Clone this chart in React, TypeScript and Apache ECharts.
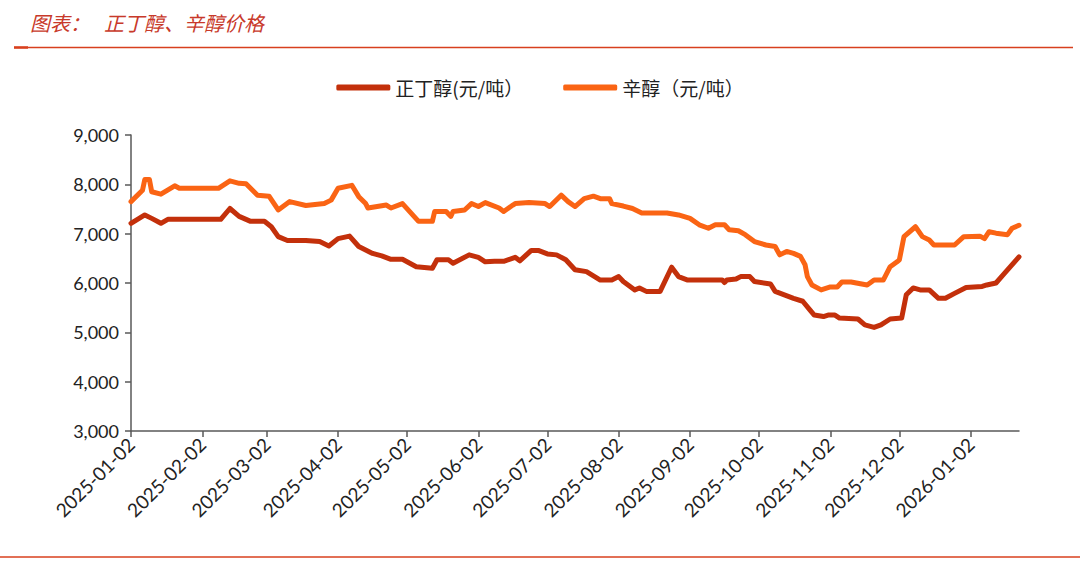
import React, { useEffect, useRef } from "react";
import * as echarts from "echarts";

const tickLabels = [
  "2025-01-02", "2025-02-02", "2025-03-02", "2025-04-02", "2025-05-02", "2025-06-02",
  "2025-07-02", "2025-08-02", "2025-09-02", "2025-10-02", "2025-11-02", "2025-12-02", "2026-01-02",
];

const seriesNames = ["正丁醇(元/吨）", "辛醇（元/吨）"];

const butanolDates = [
  "2025-01-02", "2025-01-08", "2025-01-11", "2025-01-15", "2025-01-18", "2025-02-10", "2025-02-14",
  "2025-02-18", "2025-02-23", "2025-03-01", "2025-03-04", "2025-03-07", "2025-03-11", "2025-03-19",
  "2025-03-25", "2025-03-29", "2025-04-02", "2025-04-07", "2025-04-11", "2025-04-17", "2025-04-21",
  "2025-04-25", "2025-04-30", "2025-05-06", "2025-05-13", "2025-05-15", "2025-05-20", "2025-05-22",
  "2025-05-29", "2025-06-02", "2025-06-05", "2025-06-09", "2025-06-13", "2025-06-18", "2025-06-20",
  "2025-06-25", "2025-06-28", "2025-07-02", "2025-07-06", "2025-07-10", "2025-07-14", "2025-07-19",
  "2025-07-25", "2025-07-30", "2025-08-02", "2025-08-04", "2025-08-09", "2025-08-11", "2025-08-14",
  "2025-08-20", "2025-08-25", "2025-08-28", "2025-09-01", "2025-09-16", "2025-09-17", "2025-09-18",
  "2025-09-22", "2025-09-24", "2025-09-28", "2025-09-30", "2025-10-07", "2025-10-09", "2025-10-13",
  "2025-10-17", "2025-10-21", "2025-10-24", "2025-10-26", "2025-10-30", "2025-11-01", "2025-11-04",
  "2025-11-06", "2025-11-14", "2025-11-17", "2025-11-21", "2025-11-24", "2025-11-28", "2025-12-03",
  "2025-12-05", "2025-12-08", "2025-12-11", "2025-12-15", "2025-12-19", "2025-12-22", "2025-12-26",
  "2025-12-31", "2026-01-07", "2026-01-09", "2026-01-13", "2026-01-16", "2026-01-23",
];
const butanolValues = [
  7210, 7380, 7310, 7210, 7290, 7290, 7510,
  7350, 7250, 7250, 7140, 6940, 6860, 6860,
  6840, 6750, 6900, 6950, 6740, 6600, 6550,
  6480, 6480, 6330, 6300, 6470, 6470, 6400,
  6570, 6520, 6430, 6440, 6440, 6520, 6450,
  6660, 6660, 6590, 6570, 6470, 6270, 6230,
  6060, 6060, 6130, 6030, 5860, 5900, 5830,
  5830, 6320, 6130, 6060, 6060, 6010, 6060,
  6080, 6130, 6130, 6030, 5980, 5830, 5760,
  5690, 5630, 5460, 5350, 5320, 5350, 5350,
  5290, 5270, 5150, 5100, 5150, 5270, 5290,
  5760, 5900, 5860, 5860, 5690, 5690, 5790,
  5910, 5930, 5960, 6000, 6160, 6530,
];

const octanolDates = [
  "2025-01-02", "2025-01-07", "2025-01-08", "2025-01-10", "2025-01-11", "2025-01-15", "2025-01-21",
  "2025-01-23", "2025-02-09", "2025-02-14", "2025-02-18", "2025-02-21", "2025-02-26", "2025-03-03",
  "2025-03-07", "2025-03-12", "2025-03-19", "2025-03-27", "2025-03-30", "2025-04-02", "2025-04-08",
  "2025-04-11", "2025-04-14", "2025-04-15", "2025-04-23", "2025-04-25", "2025-04-30", "2025-05-07",
  "2025-05-13", "2025-05-14", "2025-05-19", "2025-05-21", "2025-05-22", "2025-05-27", "2025-05-30",
  "2025-06-02", "2025-06-05", "2025-06-11", "2025-06-13", "2025-06-17", "2025-06-18", "2025-06-24",
  "2025-07-01", "2025-07-03", "2025-07-08", "2025-07-11", "2025-07-14", "2025-07-18", "2025-07-22",
  "2025-07-25", "2025-07-29", "2025-07-30", "2025-08-04", "2025-08-08", "2025-08-12", "2025-08-23",
  "2025-08-28", "2025-09-02", "2025-09-06", "2025-09-10", "2025-09-13", "2025-09-17", "2025-09-19",
  "2025-09-23", "2025-09-26", "2025-09-30", "2025-10-05", "2025-10-09", "2025-10-11", "2025-10-14",
  "2025-10-17", "2025-10-20", "2025-10-22", "2025-10-23", "2025-10-25", "2025-10-29", "2025-11-02",
  "2025-11-05", "2025-11-07", "2025-11-11", "2025-11-18", "2025-11-21", "2025-11-25", "2025-11-28",
  "2025-12-01", "2025-12-02", "2025-12-04", "2025-12-09", "2025-12-12", "2025-12-15", "2025-12-17",
  "2025-12-26", "2025-12-30", "2026-01-06", "2026-01-08", "2026-01-10", "2026-01-13", "2026-01-18",
  "2026-01-20", "2026-01-23",
];
const octanolValues = [
  7650, 7880, 8100, 8100, 7850, 7800, 7970,
  7920, 7920, 8070, 8020, 8010, 7780, 7760,
  7480, 7650, 7570, 7610, 7680, 7920, 7980,
  7750, 7610, 7520, 7580, 7520, 7610, 7250,
  7250, 7450, 7450, 7350, 7450, 7480, 7610,
  7550, 7630, 7520, 7450, 7580, 7610, 7630,
  7610, 7550, 7780, 7650, 7550, 7710, 7760,
  7710, 7710, 7610, 7560, 7510, 7420, 7420,
  7380, 7310, 7180, 7110, 7180, 7180, 7080,
  7060, 6980, 6840, 6770, 6740, 6570, 6640,
  6600, 6540, 6370, 6130, 5960, 5860, 5920,
  5920, 6020, 6020, 5960, 6060, 6060, 6330,
  6430, 6470, 6940, 7140, 6940, 6870, 6770,
  6770, 6940, 6950, 6900, 7040, 7010, 6980,
  7110, 7170,
];

const axisStart = "2025-01-02";
const axisEnd = "2026-01-23";

const DARK = "#C3300B";
const ORANGE = "#FA6414";
const RED_RULE = "#D8401E";
const TITLE_RED = "#C8392A";

const toTime = (s: string) => {
  const [y, m, d] = s.split("-").map(Number);
  return Date.UTC(y, m - 1, d);
};
const fmtDate = (t: number) => {
  const dt = new Date(Math.round(t));
  const p = (n: number) => (n < 10 ? "0" + n : "" + n);
  return `${dt.getUTCFullYear()}-${p(dt.getUTCMonth() + 1)}-${p(dt.getUTCDate())}`;
};

export default function App() {
  const ref = useRef<HTMLDivElement>(null);

  useEffect(() => {
    if (!ref.current) return;
    const chart = echarts.init(ref.current, undefined, { renderer: "svg" });
    const tickTimes = tickLabels.map(toTime);
    const butanol = butanolDates.map((d, i) => [toTime(d), butanolValues[i]]);
    const octanol = octanolDates.map((d, i) => [toTime(d), octanolValues[i]]);

    chart.setOption({
      animation: false,
      backgroundColor: "#ffffff",
      textStyle: { fontFamily: "Lato, 'Noto Sans CJK SC', sans-serif" },
      graphic: [
        {
          type: "text",
          left: 30,
          top: 12,
          style: {
            text: "图表：",
            fill: TITLE_RED,
            font: "italic 20px 'Noto Sans CJK SC', sans-serif",
          },
        },
        {
          type: "text",
          left: 104,
          top: 12,
          style: {
            text: "正丁醇、辛醇价格",
            fill: TITLE_RED,
            font: "italic 20px 'Noto Sans CJK SC', sans-serif",
          },
        },
        {
          type: "line",
          shape: { x1: 14, y1: 47.5, x2: 1073, y2: 47.5 },
          style: { stroke: RED_RULE, lineWidth: 1.4 },
        },
        {
          type: "line",
          shape: { x1: 14, y1: 47.5, x2: 28, y2: 47.5 },
          style: { stroke: RED_RULE, lineWidth: 2.5 },
        },
        {
          type: "line",
          shape: { x1: 0, y1: 557, x2: 1080, y2: 557 },
          style: { stroke: RED_RULE, lineWidth: 1.6 },
        },
      ],
      legend: {
        top: 73,
        left: "center",
        itemWidth: 54,
        itemHeight: 6,
        itemGap: 40,
        icon: "roundRect",
        textStyle: {
          fontSize: 19,
          color: "#222",
          fontFamily: "'Noto Sans CJK SC', sans-serif",
        },
        data: seriesNames,
      },
      grid: { left: 131, right: 61, top: 135, bottom: 131, containLabel: false },
      xAxis: {
        type: "value",
        min: toTime(axisStart),
        max: toTime(axisEnd),
        axisLine: { show: true, onZero: false, lineStyle: { color: "#595959", width: 1.5 } },
        axisTick: {
          show: true,
          length: 6,
          inside: false,
          customValues: tickTimes,
          lineStyle: { color: "#595959", width: 1.5 },
        },
        axisLabel: {
          rotate: 45,
          margin: 10,
          fontSize: 19,
          color: "#222",
          customValues: tickTimes,
          formatter: (v: number) => fmtDate(v),
        },
        splitLine: { show: false },
      },
      yAxis: {
        type: "value",
        min: 3000,
        max: 9000,
        interval: 1000,
        axisLine: { show: true, lineStyle: { color: "#595959", width: 1.5 } },
        axisTick: { show: true, length: 6, lineStyle: { color: "#595959", width: 1.5 } },
        axisLabel: {
          fontSize: 18,
          color: "#222",
          margin: 12,
          formatter: (v: number) => v.toLocaleString("en-US"),
        },
        splitLine: { show: false },
      },
      series: [
        {
          name: seriesNames[0],
          type: "line",
          data: butanol,
          showSymbol: false,
          symbol: "none",
          color: DARK,
          lineStyle: { width: 5, color: DARK, cap: "round", join: "round" },
          z: 3,
        },
        {
          name: seriesNames[1],
          type: "line",
          data: octanol,
          showSymbol: false,
          symbol: "none",
          color: ORANGE,
          lineStyle: { width: 5, color: ORANGE, cap: "round", join: "round" },
          z: 2,
        },
      ],
    });
    return () => chart.dispose();
  }, []);

  return (
    <div
      ref={ref}
      style={{ position: "fixed", left: 0, top: 0, width: 1080, height: 562, background: "#fff" }}
    />
  );
}
